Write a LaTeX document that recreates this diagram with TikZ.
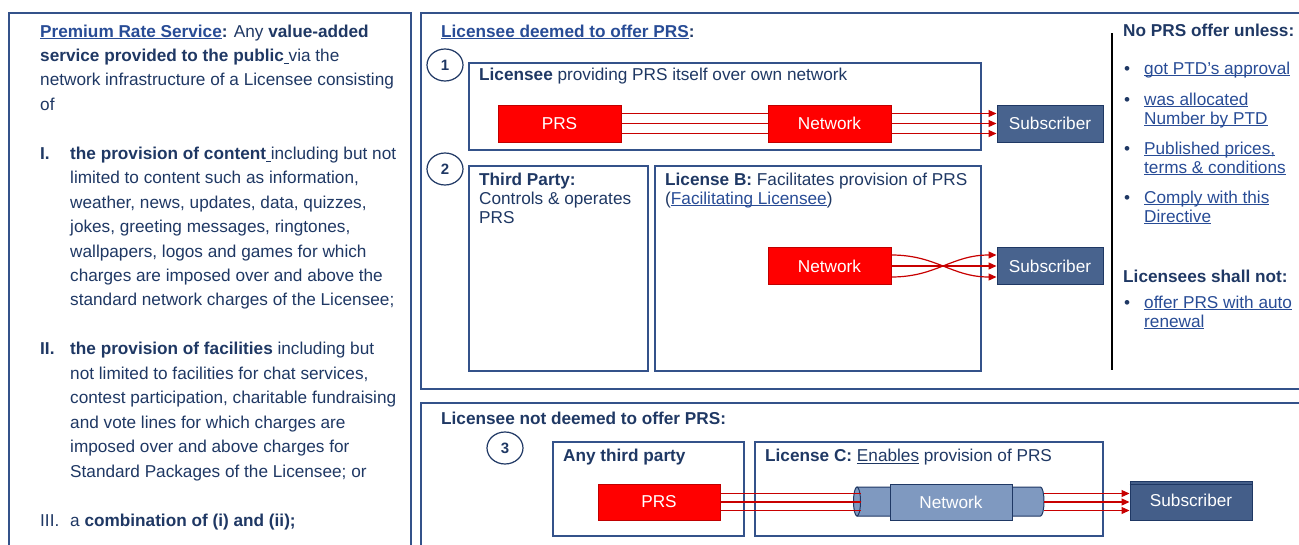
\documentclass[tikz,border=0pt]{standalone}
\usepackage{fontspec}
\setmainfont{Liberation Sans}
\usetikzlibrary{arrows.meta,shapes.geometric}
\definecolor{navy}{RGB}{31,56,100}
\definecolor{frame}{RGB}{52,82,138}
\definecolor{link}{RGB}{40,76,150}
\definecolor{subfill}{RGB}{72,99,142}
\definecolor{subfillb}{RGB}{68,94,137}
\definecolor{tubefill}{RGB}{127,153,192}
\definecolor{redfill}{RGB}{255,0,0}
\definecolor{redline}{RGB}{200,0,0}
\definecolor{redborder}{RGB}{192,0,0}
\newcommand\myfs{\fontsize{17.2}{20}\selectfont}
\newcommand\myblk[3]{\parbox[t]{#1}{\fontsize{17.2}{#2}\selectfont\raggedright\leavevmode #3}}
\newcommand\myul[1]{\leavevmode\setbox0\hbox{#1}\rlap{\rule[-2.4pt]{\wd0}{1pt}}\box0\relax}
\begin{document}
\begin{tikzpicture}[x=1pt,y=-1pt,
  txt/.style={anchor=base west, inner sep=0pt, text=navy, font=\myfs},
  redbox/.style={draw=redborder, fill=redfill, line width=0.8pt, text=white, minimum width=123pt, minimum height=37pt, inner sep=0pt, font=\myfs},
  subbox/.style={draw=navy, fill=subfill, line width=1pt, text=white, minimum width=106pt, minimum height=37pt, inner sep=0pt, font=\myfs},
  netbox/.style={draw=navy, fill=tubefill, line width=1pt, text=white, minimum width=122pt, minimum height=36pt, inner sep=0pt, font=\myfs},
  panel/.style={draw=frame, line width=1.3pt},
  num/.style={ellipse, draw=navy, line width=1.2pt, fill=white, minimum width=36pt, minimum height=32pt, inner sep=0pt, text=navy, font=\bfseries\fontsize{15}{15}\selectfont},
  redarr/.style={draw=redline, line width=1.2pt},
  arr/.style={redarr, -{Triangle[length=8pt,width=7pt]}},
  tube/.style={draw=navy, fill=tubefill, line width=1pt}]
\useasboundingbox (0,0) rectangle (1299,544);
\clip (0,0) rectangle (1299,544);
\fill[white] (0,0) rectangle (1299,544);

% ---------- left panel ----------
\draw[panel] (9,13) rectangle (411,560);
\node[txt] (def) at (40,37) {\myblk{370pt}{24.45pt}{%
{\color{link}\bfseries\myul{Premium Rate Service}}\textbf{:} Any \textbf{value-added}\\
\textbf{service provided to the public}\myul{\ }via the\\
network infrastructure of a Licensee consisting\\
of}};
\node[txt] (l1) at (40,159.25) {\textbf{I.}};
\node[txt] (i1) at (70,159.25) {\myblk{340pt}{24.45pt}{%
\textbf{the provision of content}\myul{\ }including but not\\
limited to content such as information,\\
weather, news, updates, data, quizzes,\\
jokes, greeting messages, ringtones,\\
wallpapers, logos and games for which\\
charges are imposed over and above the\\
standard network charges of the Licensee;}};
\node[txt] (l2) at (40,354.85) {\textbf{II.}};
\node[txt] (i2) at (70,354.85) {\myblk{340pt}{24.45pt}{%
\textbf{the provision of facilities} including but\\
not limited to facilities for chat services,\\
contest participation, charitable fundraising\\
and vote lines for which charges are\\
imposed over and above charges for\\
Standard Packages of the Licensee; or}};
\node[txt] (l3) at (40,526) {III.};
\node[txt] (i3) at (70,526) {a \textbf{combination of (i) and (ii);}};

% ---------- upper right panel ----------
\draw[panel] (421,13) rectangle (1310,389);
\node[txt] (h1) at (441,37) {\textbf{{\color{link}\myul{Licensee deemed to offer PRS}}:}};
\node[num] (c1) at (445,65) {1};
\draw[panel] (469,63) rectangle (981,150);
\node[txt] (t1) at (479,80.5) {\textbf{Licensee} providing PRS itself over own network};
\node[redbox] (prs1) at (559.5,123.5) {PRS};
\node[redbox] (net1) at (829.5,123.5) {Network};
\node[subbox] (sub1) at (1050,123.5) {Subscriber};
\foreach \d in {-10,0,10} {
  \draw[redarr] ([yshift=\d pt]prs1.east) -- ([yshift=\d pt]net1.west);
  \draw[arr] ([yshift=\d pt]net1.east) -- ([yshift=\d pt]sub1.west);
}

\node[num] (c2) at (445,169) {2};
\draw[panel] (469,166) rectangle (648,371);
\draw[panel] (655,166) rectangle (981,371);
\node[txt] (tp) at (479,185) {\myblk{170pt}{19pt}{\textbf{Third Party:}\\Controls \& operates\\PRS}};
\node[txt] (lb) at (665,185) {\myblk{310pt}{19pt}{\textbf{License B:} Facilitates provision of PRS\\({\color{link}\myul{Facilitating Licensee}})}};
\node[redbox] (net2) at (829.5,266) {Network};
\node[subbox] (sub2) at (1050,266) {Subscriber};
\draw[arr] (net2.east) -- (sub2.west);
\draw[arr] ([yshift=11pt]net2.east) .. controls +(45,0) and +(-45,0) .. ([yshift=-11pt]sub2.west);
\draw[arr] ([yshift=-11pt]net2.east) .. controls +(45,0) and +(-45,0) .. ([yshift=11pt]sub2.west);

\draw[black, line width=1.2pt] (1112,33) -- (1112,370);
\node[txt] (h2) at (1123,36.5) {\textbf{No PRS offer unless:}};
\node[txt, anchor=base] (b1) at (1127,74) {•};
\node[txt] (r1) at (1144,74) {\color{link}\myul{got PTD’s approval}};
\node[txt, anchor=base] (b2) at (1127,105) {•};
\node[txt] (r2) at (1144,105) {\myblk{160pt}{19pt}{\color{link}\myul{was allocated}\\\myul{Number by PTD}}};
\node[txt, anchor=base] (b3) at (1127,154) {•};
\node[txt] (r3) at (1144,154) {\myblk{160pt}{19pt}{\color{link}\myul{Published prices,}\\\myul{terms \& conditions}}};
\node[txt, anchor=base] (b4) at (1127,203) {•};
\node[txt] (r4) at (1144,203) {\myblk{160pt}{19pt}{\color{link}\myul{Comply with this}\\\myul{Directive}}};
\node[txt] (h4) at (1123,282) {\textbf{Licensees shall not:}};
\node[txt, anchor=base] (b5) at (1127,308) {•};
\node[txt] (r5) at (1144,308) {\myblk{160pt}{19pt}{\color{link}\myul{offer PRS with auto}\\\myul{renewal}}};

% ---------- lower panel ----------
\draw[panel] (421,403) rectangle (1310,560);
\node[txt] (h3) at (441,424.5) {\textbf{Licensee not deemed to offer PRS:}};
\node[num] (c3) at (505,448) {3};
\draw[panel] (553,442) rectangle (744,536);
\draw[panel] (755,442) rectangle (1103,536);
\node[txt] (atp) at (563,461.5) {\textbf{Any third party}};
\node[txt] (lc) at (765,461.5) {\textbf{License C:} \myul{Enables} provision of PRS};
\node[redbox, minimum width=122pt, minimum height=36pt] (prs3) at (659,502) {PRS};
% tube
\draw[tube] (857,487) -- (1040.5,487) arc[start angle=90, end angle=-90, x radius=3.5pt, y radius=14.5pt] -- (857,516) -- cycle;
\draw[tube] (857,501.5) ellipse [x radius=3.5pt, y radius=14.5pt];
\node[netbox] (net3) at (951,502) {Network};
\coordinate (tubeL) at (861,502);
\coordinate (tubeR) at (1044,502);
\node[subbox, fill=subfillb, minimum width=122pt, minimum height=39pt] (sub3) at (1191,500.5) {Subscriber};
\draw[navy, line width=0.8pt] ([yshift=-3.5pt]sub3.north west) -- ([yshift=-3.5pt]sub3.north east);
\foreach \d in {-8.5,0,8.5} {
  \draw[redarr] ([yshift=\d pt]prs3.east) -- ([yshift=\d pt]tubeL);
  \draw[arr] ([yshift=\d pt]tubeR) -- ([yshift=\d pt]tubeR -| sub3.west);
}
\end{tikzpicture}
\end{document}
